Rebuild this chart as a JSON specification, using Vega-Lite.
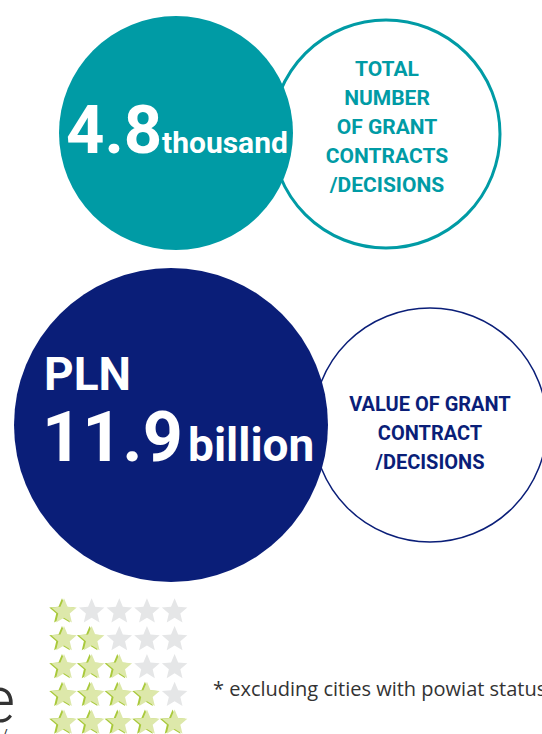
{
  "$schema": "https://vega.github.io/schema/vega-lite/v6.json",
  "width": 542,
  "height": 734,
  "autosize": {"type": "none"},
  "padding": 0,
  "background": "white",
  "view": {"stroke": null},
  "config": {"font": "Roboto", "scale": {"zero": false}},
  "datasets": {
    "circles": [
      {"id": "a_teal_outline", "x": 386, "y": 134, "r": 114, "fill": "white", "stroke": "#009BA5", "sw": 3},
      {"id": "b_teal_fill", "x": 176, "y": 133, "r": 117, "fill": "#009BA5", "stroke": "#009BA5", "sw": 0},
      {"id": "c_navy_outline", "x": 430, "y": 425, "r": 117, "fill": "white", "stroke": "#0A1E78", "sw": 1.5},
      {"id": "d_navy_fill", "x": 171, "y": 425, "r": 157, "fill": "#0A1E78", "stroke": "#0A1E78", "sw": 0}
    ],
    "stars": [
      {"row": 1, "col": 1, "on": "yes"}, {"row": 1, "col": 2, "on": "no"}, {"row": 1, "col": 3, "on": "no"}, {"row": 1, "col": 4, "on": "no"}, {"row": 1, "col": 5, "on": "no"},
      {"row": 2, "col": 1, "on": "yes"}, {"row": 2, "col": 2, "on": "yes"}, {"row": 2, "col": 3, "on": "no"}, {"row": 2, "col": 4, "on": "no"}, {"row": 2, "col": 5, "on": "no"},
      {"row": 3, "col": 1, "on": "yes"}, {"row": 3, "col": 2, "on": "yes"}, {"row": 3, "col": 3, "on": "yes"}, {"row": 3, "col": 4, "on": "no"}, {"row": 3, "col": 5, "on": "no"},
      {"row": 4, "col": 1, "on": "yes"}, {"row": 4, "col": 2, "on": "yes"}, {"row": 4, "col": 3, "on": "yes"}, {"row": 4, "col": 4, "on": "yes"}, {"row": 4, "col": 5, "on": "no"},
      {"row": 5, "col": 1, "on": "yes"}, {"row": 5, "col": 2, "on": "yes"}, {"row": 5, "col": 3, "on": "yes"}, {"row": 5, "col": 4, "on": "yes"}, {"row": 5, "col": 5, "on": "yes"}
    ],
    "texts": [
      {"g": "big48", "t": "4.8", "x": 66, "y": 153},
      {"g": "thousand", "t": "thousand", "x": 162, "y": 153},
      {"g": "tealcap", "t": "TOTAL", "x": 387, "y": 70},
      {"g": "tealcap", "t": "NUMBER", "x": 387, "y": 99},
      {"g": "tealcap", "t": "OF GRANT", "x": 387, "y": 128},
      {"g": "tealcap", "t": "CONTRACTS", "x": 387, "y": 157},
      {"g": "tealcap", "t": "/DECISIONS", "x": 387, "y": 186},
      {"g": "pln", "t": "PLN", "x": 44, "y": 390},
      {"g": "big119", "t": "11.9", "x": 42, "y": 461},
      {"g": "billion", "t": "billion", "x": 188, "y": 461},
      {"g": "navycap", "t": "VALUE OF GRANT", "x": 430, "y": 405},
      {"g": "navycap", "t": "CONTRACT", "x": 430, "y": 434},
      {"g": "navycap", "t": "/DECISIONS", "x": 430, "y": 463},
      {"g": "note", "t": "* excluding cities with powiat status", "x": 213, "y": 690},
      {"g": "e", "t": "e", "x": 15, "y": 722},
      {"g": "slash", "t": "/", "x": 5, "y": 740}
    ]
  },
  "layer": [
    {
      "data": {"name": "circles"},
      "mark": {"type": "point", "shape": "circle", "filled": true, "opacity": 1, "strokeOpacity": 1},
      "encoding": {
        "x": {"field": "x", "type": "quantitative", "scale": {"domain": [0, 542], "nice": false}, "axis": null},
        "y": {"field": "y", "type": "quantitative", "scale": {"domain": [734, 0], "nice": false}, "axis": null},
        "size": {"field": "r", "type": "quantitative", "scale": {"type": "pow", "exponent": 2, "domain": [0, 1], "range": [0, 4], "nice": false, "clamp": false}, "legend": null},
        "fill": {"field": "fill", "type": "nominal", "scale": null},
        "stroke": {"field": "stroke", "type": "nominal", "scale": null},
        "strokeWidth": {"field": "sw", "type": "quantitative", "scale": null},
        "order": {"field": "id", "sort": "ascending"}
      }
    },
    {
      "data": {"name": "texts"},
      "transform": [{"filter": "datum.g === 'big48'"}],
      "mark": {"type": "text", "align": "left", "baseline": "alphabetic", "fontSize": 67, "fontWeight": "bold", "color": "white"},
      "encoding": {
        "x": {"field": "x", "type": "quantitative", "scale": {"domain": [0, 542], "nice": false}, "axis": null},
        "y": {"field": "y", "type": "quantitative", "scale": {"domain": [734, 0], "nice": false}, "axis": null},
        "text": {"field": "t"}
      }
    },
    {
      "data": {"name": "texts"},
      "transform": [{"filter": "datum.g === 'thousand'"}],
      "mark": {"type": "text", "align": "left", "baseline": "alphabetic", "fontSize": 30, "fontWeight": "bold", "color": "white"},
      "encoding": {
        "x": {"field": "x", "type": "quantitative", "scale": {"domain": [0, 542], "nice": false}, "axis": null},
        "y": {"field": "y", "type": "quantitative", "scale": {"domain": [734, 0], "nice": false}, "axis": null},
        "text": {"field": "t"}
      }
    },
    {
      "data": {"name": "texts"},
      "transform": [{"filter": "datum.g === 'tealcap'"}],
      "mark": {"type": "text", "align": "center", "baseline": "middle", "fontSize": 21, "fontWeight": "bold", "color": "#009BA5"},
      "encoding": {
        "x": {"field": "x", "type": "quantitative", "scale": {"domain": [0, 542], "nice": false}, "axis": null},
        "y": {"field": "y", "type": "quantitative", "scale": {"domain": [734, 0], "nice": false}, "axis": null},
        "text": {"field": "t"}
      }
    },
    {
      "data": {"name": "texts"},
      "transform": [{"filter": "datum.g === 'pln'"}],
      "mark": {"type": "text", "align": "left", "baseline": "alphabetic", "fontSize": 46, "fontWeight": "bold", "color": "white"},
      "encoding": {
        "x": {"field": "x", "type": "quantitative", "scale": {"domain": [0, 542], "nice": false}, "axis": null},
        "y": {"field": "y", "type": "quantitative", "scale": {"domain": [734, 0], "nice": false}, "axis": null},
        "text": {"field": "t"}
      }
    },
    {
      "data": {"name": "texts"},
      "transform": [{"filter": "datum.g === 'big119'"}],
      "mark": {"type": "text", "align": "left", "baseline": "alphabetic", "fontSize": 70, "fontWeight": "bold", "color": "white"},
      "encoding": {
        "x": {"field": "x", "type": "quantitative", "scale": {"domain": [0, 542], "nice": false}, "axis": null},
        "y": {"field": "y", "type": "quantitative", "scale": {"domain": [734, 0], "nice": false}, "axis": null},
        "text": {"field": "t"}
      }
    },
    {
      "data": {"name": "texts"},
      "transform": [{"filter": "datum.g === 'billion'"}],
      "mark": {"type": "text", "align": "left", "baseline": "alphabetic", "fontSize": 46, "fontWeight": "bold", "color": "white"},
      "encoding": {
        "x": {"field": "x", "type": "quantitative", "scale": {"domain": [0, 542], "nice": false}, "axis": null},
        "y": {"field": "y", "type": "quantitative", "scale": {"domain": [734, 0], "nice": false}, "axis": null},
        "text": {"field": "t"}
      }
    },
    {
      "data": {"name": "texts"},
      "transform": [{"filter": "datum.g === 'navycap'"}],
      "mark": {"type": "text", "align": "center", "baseline": "middle", "fontSize": 20, "fontWeight": "bold", "color": "#0A1E78"},
      "encoding": {
        "x": {"field": "x", "type": "quantitative", "scale": {"domain": [0, 542], "nice": false}, "axis": null},
        "y": {"field": "y", "type": "quantitative", "scale": {"domain": [734, 0], "nice": false}, "axis": null},
        "text": {"field": "t"}
      }
    },
    {
      "data": {"name": "texts"},
      "transform": [{"filter": "datum.g === 'note'"}],
      "mark": {"type": "text", "align": "left", "baseline": "middle", "fontSize": 20, "font": "Open Sans", "color": "#333333"},
      "encoding": {
        "x": {"field": "x", "type": "quantitative", "scale": {"domain": [0, 542], "nice": false}, "axis": null},
        "y": {"field": "y", "type": "quantitative", "scale": {"domain": [734, 0], "nice": false}, "axis": null},
        "text": {"field": "t"}
      }
    },
    {
      "data": {"name": "texts"},
      "transform": [{"filter": "datum.g === 'e'"}],
      "mark": {"type": "text", "align": "right", "baseline": "alphabetic", "fontSize": 64, "fontWeight": 300, "color": "#333333"},
      "encoding": {
        "x": {"field": "x", "type": "quantitative", "scale": {"domain": [0, 542], "nice": false}, "axis": null},
        "y": {"field": "y", "type": "quantitative", "scale": {"domain": [734, 0], "nice": false}, "axis": null},
        "text": {"field": "t"}
      }
    },
    {
      "data": {"name": "texts"},
      "transform": [{"filter": "datum.g === 'slash'"}],
      "mark": {"type": "text", "align": "center", "baseline": "alphabetic", "fontSize": 14, "color": "#333333"},
      "encoding": {
        "x": {"field": "x", "type": "quantitative", "scale": {"domain": [0, 542], "nice": false}, "axis": null},
        "y": {"field": "y", "type": "quantitative", "scale": {"domain": [734, 0], "nice": false}, "axis": null},
        "text": {"field": "t"}
      }
    },
    {
      "data": {"name": "stars"},
      "transform": [{"filter": "datum.on === 'yes'"}],
      "mark": {"type": "point", "filled": true, "size": 720, "xOffset": -2, "color": "#A9C93B", "opacity": 1, "strokeWidth": 0,
        "shape": "M0,-1L0.265,-0.364L0.951,-0.309L0.428,0.139L0.588,0.809L0,0.45L-0.588,0.809L-0.428,0.139L-0.951,-0.309L-0.265,-0.364Z"},
      "encoding": {
        "x": {"field": "col", "type": "quantitative", "scale": {"domain": [-1.3146, 18.2875], "nice": false}, "axis": null},
        "y": {"field": "row", "type": "quantitative", "scale": {"domain": [5.399, -21.004], "nice": false}, "axis": null}
      }
    },
    {
      "data": {"name": "stars"},
      "mark": {"type": "point", "filled": true, "size": 720, "opacity": 1, "strokeWidth": 0,
        "shape": "M0,-1L0.265,-0.364L0.951,-0.309L0.428,0.139L0.588,0.809L0,0.45L-0.588,0.809L-0.428,0.139L-0.951,-0.309L-0.265,-0.364Z"},
      "encoding": {
        "x": {"field": "col", "type": "quantitative", "scale": {"domain": [-1.3146, 18.2875], "nice": false}, "axis": null},
        "y": {"field": "row", "type": "quantitative", "scale": {"domain": [5.399, -21.004], "nice": false}, "axis": null},
        "color": {"field": "on", "type": "nominal", "scale": {"domain": ["yes", "no"], "range": ["#DDE8AA", "#E5E6E7"]}, "legend": null}
      }
    }
  ],
  "resolve": {"scale": {"x": "independent", "y": "independent", "color": "independent", "size": "independent"}}
}
